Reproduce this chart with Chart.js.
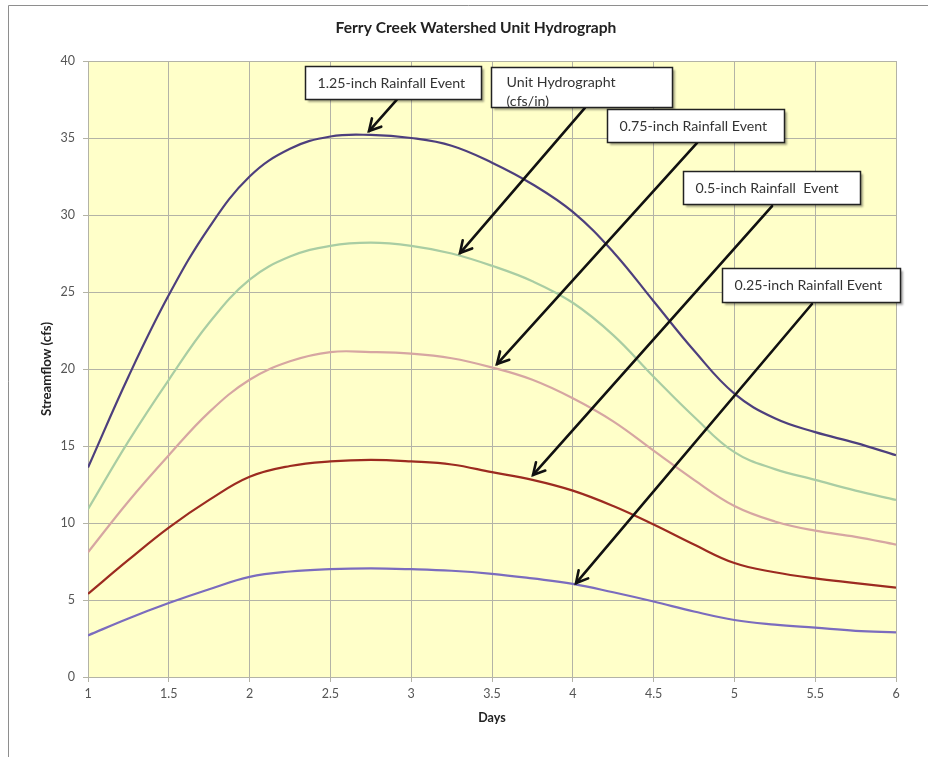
<!DOCTYPE html>
<html>
<head>
<meta charset="utf-8">
<script src="https://cdn.jsdelivr.net/npm/chart.js@4.4.1/dist/chart.umd.min.js"></script>
<style>
  html, body { margin: 0; padding: 0; background: #fff; }
  #wrap { position: relative; width: 928px; height: 757px; }
</style>
</head>
<body>
<div id="wrap"><canvas id="hydro"></canvas></div>
<script>
// values, every quarter day
const days = [1, 1.25, 1.5, 1.75, 2, 2.25, 2.5, 2.75, 3, 3.25, 3.5, 3.75, 4, 4.25, 4.5, 4.75, 5, 5.25, 5.5, 5.75, 6];
const flow125 = [13.6, 19.5, 24.8, 29.2, 32.5, 34.3, 35.1, 35.2, 35.0, 34.5, 33.4, 32.0, 30.2, 27.6, 24.4, 21.2, 18.4, 16.8, 15.9, 15.2, 14.4];
const unitHydro = [10.9, 15.3, 19.3, 23.0, 25.8, 27.3, 28.0, 28.2, 28.0, 27.5, 26.7, 25.7, 24.3, 22.2, 19.5, 16.9, 14.6, 13.5, 12.8, 12.1, 11.5];
const flow075 = [8.1, 11.4, 14.4, 17.2, 19.3, 20.5, 21.1, 21.1, 21.0, 20.7, 20.1, 19.3, 18.1, 16.6, 14.7, 12.8, 11.1, 10.1, 9.5, 9.1, 8.6];
const flow050 = [5.4, 7.6, 9.7, 11.5, 13.0, 13.7, 14.0, 14.1, 14.0, 13.8, 13.3, 12.8, 12.1, 11.1, 9.9, 8.6, 7.4, 6.8, 6.4, 6.1, 5.8];
const flow025 = [2.7, 3.8, 4.8, 5.7, 6.5, 6.85, 7.0, 7.05, 7.0, 6.9, 6.7, 6.4, 6.05, 5.5, 4.9, 4.25, 3.7, 3.4, 3.2, 3.0, 2.9];

const seriesNames = ['1.25-inch Rainfall Event', 'Unit Hydrograph (cfs/in)', '0.75-inch Rainfall Event', '0.5-inch Rainfall Event', '0.25-inch Rainfall Event'];
const seriesValues = [flow125, unitHydro, flow075, flow050, flow025];
const seriesColors = ['#4d3f7d', '#a9cda3', '#d6a6a2', '#9c2b20', '#7b6cbe'];

// callouts: box corners and arrow ends in chart units (days, cfs)
const callouts = [
  { lines: ['1.25-inch Rainfall Event'], box: [2.343, 39.68, 3.438, 37.53], tail: [2.91, 37.47], tip: [2.739, 35.45] },
  { lines: ['Unit Hydrographt', '(cfs/in)'], box: [3.494, 39.61, 4.620, 37.01], tail: [4.075, 36.95], tip: [3.302, 27.53] },
  { lines: ['0.75-inch Rainfall Event'], box: [4.212, 36.88, 5.313, 34.68], tail: [4.769, 34.68], tip: [3.531, 20.32] },
  { lines: ['0.5-inch Rainfall  Event'], box: [4.682, 32.86, 5.783, 30.65], tail: [5.233, 30.58], tip: [3.754, 13.12] },
  { lines: ['0.25-inch Rainfall Event'], box: [4.923, 26.56, 6.025, 24.35], tail: [5.480, 24.22], tip: [4.020, 6.10] }
];

const chartTitle = 'Ferry Creek Watershed Unit Hydrograph';
const FONT = 'Lato, "Open Sans", sans-serif';

const plotBackground = {
  id: 'plotBackground',
  beforeDraw(chart) {
    const { ctx, chartArea: a } = chart;
    ctx.save();
    ctx.fillStyle = '#fff';
    ctx.fillRect(0, 0, chart.width, chart.height);
    // outer frame of the pasted picture
    ctx.strokeStyle = '#8e8e8e';
    ctx.lineWidth = 1;
    ctx.beginPath();
    ctx.moveTo(8.5, chart.height);
    ctx.lineTo(8.5, 5.5);
    ctx.lineTo(chart.width, 5.5);
    ctx.stroke();
    ctx.fillStyle = '#ffffc9';
    ctx.fillRect(a.left, a.top, a.right - a.left, a.bottom - a.top);

    ctx.fillStyle = '#222';
    ctx.font = 'bold 15.6px ' + FONT;
    ctx.textAlign = 'center';
    ctx.textBaseline = 'middle';
    ctx.fillText(chartTitle, 476, 28);
    ctx.restore();
  }
};

function drawArrow(ctx, x1, y1, x2, y2) {
  ctx.beginPath();
  ctx.moveTo(x1, y1);
  ctx.lineTo(x2, y2);
  ctx.stroke();
  const ang = Math.atan2(y2 - y1, x2 - x1);
  const len = 13, spread = 0.5;
  ctx.beginPath();
  ctx.moveTo(x2 - len * Math.cos(ang - spread), y2 - len * Math.sin(ang - spread));
  ctx.lineTo(x2, y2);
  ctx.lineTo(x2 - len * Math.cos(ang + spread), y2 - len * Math.sin(ang + spread));
  ctx.stroke();
}

const calloutPlugin = {
  id: 'callouts',
  afterDatasetsDraw(chart) {
    const { ctx, scales: { x, y } } = chart;
    ctx.save();
    callouts.forEach(c => {
      ctx.strokeStyle = '#111';
      ctx.lineWidth = 2.6;
      ctx.lineCap = 'round';
      drawArrow(ctx, x.getPixelForValue(c.tail[0]), y.getPixelForValue(c.tail[1]),
        x.getPixelForValue(c.tip[0]), y.getPixelForValue(c.tip[1]));

      const left = Math.round(x.getPixelForValue(c.box[0])) + 0.5;
      const top = Math.round(y.getPixelForValue(c.box[1])) + 0.5;
      const w = Math.round(x.getPixelForValue(c.box[2]) - left);
      const h = Math.round(y.getPixelForValue(c.box[3]) - top);
      ctx.save();
      ctx.shadowColor = 'rgba(0,0,0,0.35)';
      ctx.shadowOffsetX = 2;
      ctx.shadowOffsetY = 2;
      ctx.shadowBlur = 2;
      ctx.fillStyle = '#fff';
      ctx.fillRect(left, top, w, h);
      ctx.restore();
      ctx.strokeStyle = '#222';
      ctx.lineWidth = 1.5;
      ctx.strokeRect(left, top, w, h);

      ctx.fillStyle = '#333';
      ctx.font = '14.2px ' + FONT;
      ctx.textBaseline = 'middle';
      ctx.textAlign = 'left';
      if (c.lines.length === 1) {
        ctx.fillText(c.lines[0], left + 12, top + h / 2);
      } else {
        ctx.fillText(c.lines[0], left + 15, top + 15);
        ctx.fillText(c.lines[1], left + 15, top + 34);
      }
    });
    ctx.restore();
  }
};

const gridColor = '#b3b3a6';

new Chart(document.getElementById('hydro'), {
  type: 'line',
  data: {
    datasets: seriesValues.map((vals, i) => ({
      label: seriesNames[i],
      data: vals.map((v, j) => ({ x: days[j], y: v })),
      borderColor: seriesColors[i],
      borderWidth: 2.2,
      pointRadius: 0,
      fill: false,
      tension: 0.4
    }))
  },
  options: {
    responsive: true,
    maintainAspectRatio: false,
    animation: false,
    layout: { padding: { left: 0, right: 32, top: 61, bottom: 0 } },
    plugins: {
      legend: { display: false },
      tooltip: { enabled: false },
      title: { display: false }
    },
    scales: {
      x: {
        type: 'linear',
        min: 1,
        max: 6,
        afterFit(scale) { scale.height = 80; },
        ticks: {
          stepSize: 0.5, color: '#555', padding: 4,
          font: { family: FONT, size: 12.5 },
          callback: v => String(v)
        },
        grid: { color: gridColor, tickLength: 5 },
        border: { color: gridColor },
        title: {
          display: true,
          text: 'Days',
          color: '#222',
          font: { family: FONT, size: 12.5, weight: 'bold' },
          padding: { bottom: 32 }
        }
      },
      y: {
        min: 0,
        max: 40,
        afterFit(scale) { scale.width = 88; },
        ticks: { stepSize: 5, color: '#555', padding: 8, font: { family: FONT, size: 12.5 } },
        grid: { color: gridColor, tickLength: 5 },
        border: { color: gridColor },
        title: {
          display: true,
          text: 'Streamflow (cfs)',
          color: '#222',
          font: { family: FONT, size: 13.2, weight: 'bold' },
          padding: { top: 39 }
        }
      }
    }
  },
  plugins: [plotBackground, calloutPlugin]
});
</script>
</body>
</html>
